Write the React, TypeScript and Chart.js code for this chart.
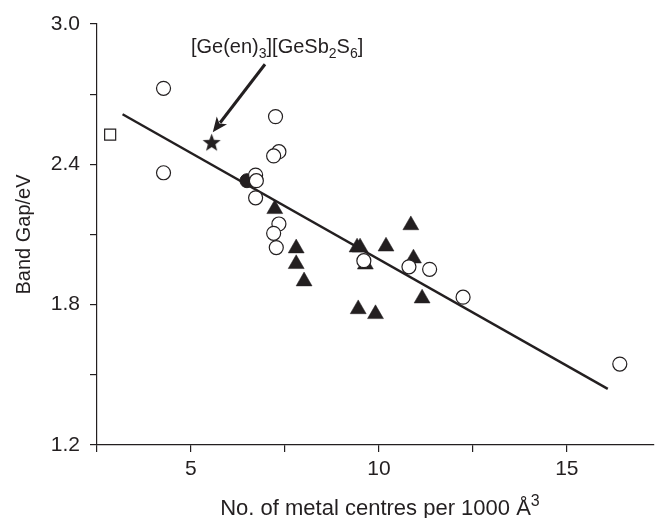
import React, { useEffect, useRef } from 'react';
import { Chart, registerables } from 'chart.js';

Chart.register(...registerables);

const INK = '#231f20';
const FONT = '"Liberation Sans", Arial, Helvetica, sans-serif';

// Axis ticks
const xTickValues = [2.5, 5, 7.5, 10, 12.5, 15];
const xTickLabels = [5, 10, 15];
const yTickValues = [1.2, 1.5, 1.8, 2.1, 2.4, 2.7, 3.0];
const yTickLabels = [1.2, 1.8, 2.4, 3.0];

// Open circles
const openCircleX = [4.27, 4.27, 7.25, 7.34, 7.2, 6.72, 6.74, 6.72, 7.34, 7.2, 7.27, 9.6, 10.8, 11.35, 12.24, 16.41];
const openCircleY = [2.725, 2.364, 2.604, 2.454, 2.436, 2.354, 2.33, 2.257, 2.145, 2.105, 2.044, 1.988, 1.962, 1.951, 1.832, 1.546];

// Filled triangles
const triangleX = [7.23, 7.8, 7.8, 8.01, 9.42, 9.5, 9.64, 10.19, 10.85, 10.92, 11.15, 9.45, 9.91];
const triangleY = [2.209, 2.041, 1.974, 1.9, 2.045, 2.045, 1.972, 2.049, 2.14, 1.998, 1.827, 1.781, 1.76];

// Filled circle
const filledCircleX = [6.49];
const filledCircleY = [2.33];

// Open square
const squareX = [2.85];
const squareY = [2.527];

// Star: [Ge(en)3][GeSb2S6]
const starX = [5.55];
const starY = [2.493];

// Regression line end points
const fitX = [3.18, 16.09];
const fitY = [2.614, 1.44];

// Annotation (data coordinates)
const labelPos = [5.0, 2.876];
const arrowFrom = [6.97, 2.828];
const arrowTo = [5.58, 2.537];

const X_TITLE = 'No. of metal centres per 1000 Å';
const X_TITLE_SUP = '3';
const X_TITLE_SIZE = 22;
const X_TITLE_LH = 0.86;

const zip = (xs: number[], ys: number[]) => xs.map((x, i) => ({ x, y: ys[i] }));

function makeStar(r: number): HTMLCanvasElement {
  const size = Math.ceil(r * 2 + 2);
  const c = document.createElement('canvas');
  c.width = size;
  c.height = size;
  const ctx = c.getContext('2d')!;
  ctx.fillStyle = INK;
  ctx.beginPath();
  for (let i = 0; i < 10; i++) {
    const rad = i % 2 === 0 ? r : r * 0.42;
    const a = -Math.PI / 2 + (i * Math.PI) / 5;
    ctx.lineTo(size / 2 + rad * Math.cos(a), size / 2 + 0.5 + rad * Math.sin(a));
  }
  ctx.closePath();
  ctx.fill();
  return c;
}

const annotationPlugin = {
  id: 'annot',
  afterDatasetsDraw(chart: any) {
    const { ctx, scales } = chart;
    const xs = scales.x;
    const ys = scales.y;
    ctx.save();
    ctx.fillStyle = INK;
    ctx.strokeStyle = INK;
    // text with subscripts
    let px = xs.getPixelForValue(labelPos[0]);
    const py = ys.getPixelForValue(labelPos[1]);
    const parts: [string, boolean][] = [
      ['[Ge(en)', false],
      ['3', true],
      ['][GeSb', false],
      ['2', true],
      ['S', false],
      ['6', true],
      [']', false],
    ];
    ctx.textBaseline = 'alphabetic';
    ctx.textAlign = 'left';
    for (const [t, sub] of parts) {
      ctx.font = sub ? `14px ${FONT}` : `20px ${FONT}`;
      ctx.fillText(t, px, sub ? py + 5 : py);
      px += ctx.measureText(t).width;
    }
    // arrow
    const x1 = xs.getPixelForValue(arrowFrom[0]);
    const y1 = ys.getPixelForValue(arrowFrom[1]);
    const x2 = xs.getPixelForValue(arrowTo[0]);
    const y2 = ys.getPixelForValue(arrowTo[1]);
    const ang = Math.atan2(y2 - y1, x2 - x1);
    const headLen = 15;
    const headW = 6.5;
    const bx = x2 - headLen * Math.cos(ang);
    const by = y2 - headLen * Math.sin(ang);
    ctx.lineWidth = 3;
    ctx.beginPath();
    ctx.moveTo(x1, y1);
    ctx.lineTo(bx + 3 * Math.cos(ang), by + 3 * Math.sin(ang));
    ctx.stroke();
    ctx.beginPath();
    ctx.moveTo(x2, y2);
    ctx.lineTo(bx + headW * Math.sin(ang), by - headW * Math.cos(ang));
    ctx.lineTo(bx + 4 * Math.cos(ang), by + 4 * Math.sin(ang));
    ctx.lineTo(bx - headW * Math.sin(ang), by + headW * Math.cos(ang));
    ctx.closePath();
    ctx.fill();

    // superscript of the x-axis title
    ctx.font = `${X_TITLE_SIZE}px ${FONT}`;
    const w = ctx.measureText(X_TITLE).width;
    const cx = (xs.left + xs.right) / 2;
    const cy = xs.bottom - (X_TITLE_SIZE * X_TITLE_LH) / 2;
    ctx.font = `16px ${FONT}`;
    ctx.textBaseline = 'middle';
    ctx.textAlign = 'left';
    ctx.fillText(X_TITLE_SUP, cx + w / 2, cy - 7);
    ctx.restore();
  },
};

export default function App() {
  const ref = useRef<HTMLCanvasElement>(null);
  useEffect(() => {
    if (!ref.current) return;
    const star = makeStar(9.5);
    const chart = new Chart(ref.current, {
      type: 'scatter',
      data: {
        datasets: [
          {
            label: 'star',
            data: zip(starX, starY),
            pointStyle: star as any,
            pointRadius: 9,
          },
          {
            label: 'square',
            data: zip(squareX, squareY),
            pointStyle: 'rect',
            pointRadius: 7.8,
            backgroundColor: '#fff',
            borderColor: INK,
            borderWidth: 1.2,
          },
          {
            label: 'open',
            data: zip(openCircleX, openCircleY),
            pointStyle: 'circle',
            pointRadius: 7,
            backgroundColor: '#fff',
            borderColor: INK,
            borderWidth: 1.2,
          },
          {
            label: 'filled',
            data: zip(filledCircleX, filledCircleY),
            pointStyle: 'circle',
            pointRadius: 7,
            backgroundColor: INK,
            borderColor: INK,
            borderWidth: 1,
          },
          {
            label: 'tri',
            data: zip(triangleX, triangleY),
            pointStyle: 'triangle',
            pointRadius: 9.2,
            backgroundColor: INK,
            borderColor: INK,
            borderWidth: 0.5,
          },
          {
            label: 'fit',
            data: zip(fitX, fitY),
            showLine: true,
            pointRadius: 0,
            borderColor: INK,
            borderWidth: 2.4,
            fill: false,
          } as any,
        ],
      },
      options: {
        responsive: false,
        animation: false,
        layout: { padding: { top: 24, right: 0, left: 0, bottom: 0 } },
        plugins: { legend: { display: false }, tooltip: { enabled: false } },
        events: [],
        scales: {
          x: {
            type: 'linear',
            min: 2.5,
            max: 17.32,
            afterBuildTicks: (s: any) => {
              s.ticks = xTickValues.map((v) => ({ value: v }));
            },
            afterFit: (s: any) => {
              s.height = 73;
            },
            ticks: {
              autoSkip: false,
              maxRotation: 0,
              padding: 5,
              color: INK,
              font: { family: FONT, size: 21 },
              callback: (v: any) => (xTickLabels.some((t) => Math.abs(t - v) < 1e-9) ? String(v) : ''),
            },
            grid: { drawOnChartArea: false, drawTicks: true, tickLength: 7, color: INK, lineWidth: 1.2 },
            border: { color: INK, width: 1.2 },
            title: {
              display: true,
              text: X_TITLE,
              color: INK,
              font: { family: FONT, size: X_TITLE_SIZE, lineHeight: X_TITLE_LH },
              padding: { top: 0, bottom: 0 },
            },
          },
          y: {
            type: 'linear',
            min: 1.2,
            max: 3.0,
            afterBuildTicks: (s: any) => {
              s.ticks = yTickValues.map((v) => ({ value: v }));
            },
            afterFit: (s: any) => {
              s.width = 97;
            },
            ticks: {
              autoSkip: false,
              padding: 10,
              color: INK,
              font: { family: FONT, size: 21 },
              callback: (v: any) => (yTickLabels.some((t) => Math.abs(t - v) < 1e-9) ? Number(v).toFixed(1) : ''),
            },
            grid: { drawOnChartArea: false, drawTicks: true, tickLength: 7, color: INK, lineWidth: 1.2 },
            border: { color: INK, width: 1.2 },
            title: {
              display: true,
              text: 'Band Gap/eV',
              color: INK,
              font: { family: FONT, size: 20 },
              padding: { top: 12, bottom: 0 },
            },
          },
        },
      },
      plugins: [annotationPlugin],
    });
    return () => chart.destroy();
  }, []);
  return (
    <div style={{ position: 'absolute', left: 0, top: 0, width: 664, height: 518, background: '#fff' }}>
      <canvas ref={ref} width={664} height={518} style={{ display: 'block' }} />
    </div>
  );
}
